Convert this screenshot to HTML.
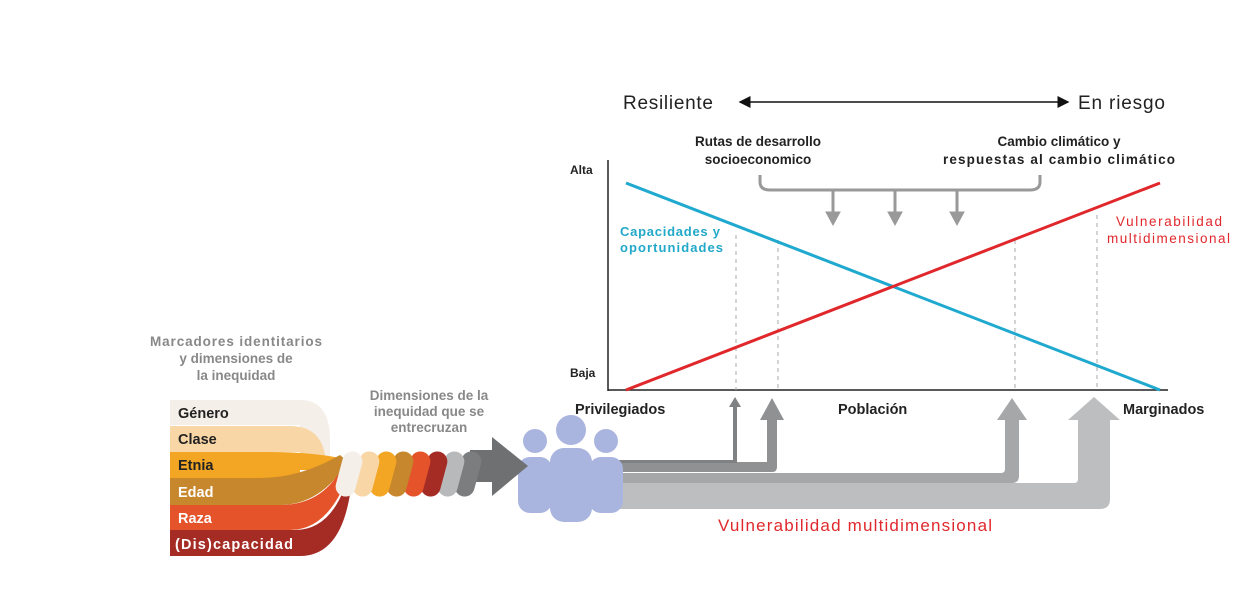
<!DOCTYPE html>
<html><head><meta charset="utf-8"><style>
body{margin:0;background:#fff;}
svg text{font-family:"Liberation Sans",sans-serif;}
.b{font-weight:bold;}
</style></head><body>
<svg width="1256" height="593" viewBox="0 0 1256 593" xmlns="http://www.w3.org/2000/svg">
<defs>
<marker id="ah" markerWidth="8" markerHeight="8" refX="7" refY="4" orient="auto"><path d="M0,0 L8,4 L0,8 z" fill="#111"/></marker>
<marker id="ah2" markerWidth="8" markerHeight="8" refX="1" refY="4" orient="auto"><path d="M8,0 L0,4 L8,8 z" fill="#111"/></marker>
</defs>
<!-- top -->
<text x="623" y="109" font-size="19" fill="#222" textLength="90">Resiliente</text>
<line x1="740" y1="102" x2="1068" y2="102" stroke="#111" stroke-width="1.5" marker-end="url(#ah)" marker-start="url(#ah2)"/>
<text x="1078" y="109" font-size="19" fill="#222" textLength="87">En riesgo</text>
<text x="758" y="146" font-size="13.5" class="b" text-anchor="middle" fill="#222">Rutas de desarrollo</text>
<text x="758" y="164" font-size="13.5" class="b" text-anchor="middle" fill="#222">socioeconomico</text>
<text x="1059" y="146" font-size="13.5" class="b" text-anchor="middle" fill="#222">Cambio climático y</text>
<text x="1059" y="164" font-size="13.5" class="b" text-anchor="middle" fill="#222" textLength="232">respuestas al cambio climático</text>
<path d="M760,175 V182 Q760,190 770,190 H1030 Q1040,190 1040,182 V175" fill="none" stroke="#999" stroke-width="3"/>
<g fill="#999" stroke="#999">
<line x1="833" y1="190" x2="833" y2="214" stroke-width="3"/><path d="M826,212 L840,212 L833,225 z"/>
<line x1="895" y1="190" x2="895" y2="214" stroke-width="3"/><path d="M888,212 L902,212 L895,225 z"/>
<line x1="957" y1="190" x2="957" y2="214" stroke-width="3"/><path d="M950,212 L964,212 L957,225 z"/>
</g>
<!-- chart -->
<text x="570" y="174" font-size="12" class="b" fill="#222">Alta</text>
<text x="570" y="377" font-size="12" class="b" fill="#222">Baja</text>
<line x1="608" y1="160" x2="608" y2="391" stroke="#222" stroke-width="1.5"/>
<line x1="608" y1="390" x2="1168" y2="390" stroke="#222" stroke-width="1.5"/>
<g stroke="#aaa" stroke-dasharray="4,4" stroke-width="1">
<line x1="736" y1="235" x2="736" y2="390"/><line x1="778" y1="240" x2="778" y2="390"/>
<line x1="1015" y1="240" x2="1015" y2="390"/><line x1="1097" y1="215" x2="1097" y2="390"/>
</g>
<line x1="626" y1="183" x2="1160" y2="390" stroke="#20a9cf" stroke-width="3"/>
<line x1="626" y1="390" x2="1160" y2="183" stroke="#e0282c" stroke-width="3"/>
<text x="620" y="236" font-size="13" class="b" fill="#22a8c8" textLength="100">Capacidades y</text>
<text x="620" y="252" font-size="13" class="b" fill="#22a8c8" textLength="103">oportunidades</text>
<text x="1116" y="226" font-size="13.5" fill="#e0282c" textLength="106">Vulnerabilidad</text>
<text x="1107" y="243" font-size="13.5" fill="#e0282c" textLength="123">multidimensional</text>
<text x="575" y="414" font-size="14.5" class="b" fill="#222">Privilegiados</text>
<text x="838" y="414" font-size="14.5" class="b" fill="#222">Población</text>
<text x="1123" y="414" font-size="14.5" class="b" fill="#222">Marginados</text>
<!-- flow arrows -->
<path d="M615,483 H1074 Q1078,483 1078,479 V420 H1068 L1094,397 L1120,420 H1110 V499 Q1110,509 1100,509 H615 z" fill="#bdbec0"/>
<path d="M615,473 H1001 Q1005,473 1005,469 V420 H997 L1012,398 L1027,420 H1019 V476 Q1019,483 1012,483 H615 z" fill="#a6a7a9"/>
<path d="M615,462 H767 V420 H760 L772,398 L784,420 H777 V467 Q777,472 772,472 H615 z" fill="#909193"/>
<path d="M615,460 H733 V407 H729 L735,397 L741,407 H737 V463 H615 z" fill="#808183"/>
<text x="718" y="531" font-size="17" fill="#e0282c" textLength="274">Vulnerabilidad multidimensional</text>
<!-- people -->
<g fill="#aab5df">
<circle cx="535" cy="441" r="12"/><circle cx="606" cy="441" r="12"/><circle cx="571" cy="430" r="15"/>
<rect x="518" y="457" width="34" height="56" rx="12"/><rect x="589" y="457" width="34" height="56" rx="12"/>
<rect x="550" y="448" width="42" height="74" rx="14"/>
</g>
<!-- left -->
<text x="236" y="346" font-size="13.5" fill="#888" text-anchor="middle" class="b" textLength="172">Marcadores identitarios</text>
<text x="236" y="363" font-size="13.5" fill="#888" text-anchor="middle" class="b">y dimensiones de</text>
<text x="236" y="380" font-size="13.5" fill="#888" text-anchor="middle" class="b">la inequidad</text>
<text x="429" y="400" font-size="13.5" fill="#888" text-anchor="middle" class="b">Dimensiones de la</text>
<text x="429" y="416" font-size="13.5" fill="#888" text-anchor="middle" class="b">inequidad que se</text>
<text x="429" y="432" font-size="13.5" fill="#888" text-anchor="middle" class="b">entrecruzan</text>
<path d="M170,400 H300 Q330,400 330,440 V470 H300 V425 H170 z" fill="#f4efe8"/>
<path d="M170,426 H290 Q320,426 325,455 L335,470 H300 V452 H170 z" fill="#f8d6a6"/>
<path d="M170,452 H270 Q310,452 340,458 L345,470 H300 V478 H170 z" fill="#f3a623"/>
<path d="M170,478 H260 Q300,478 340,455 L348,462 Q320,505 280,505 H170 z" fill="#c7872d"/>
<path d="M170,505 H280 Q325,505 345,462 L350,470 Q330,530 290,530 H170 z" fill="#e4532a"/>
<path d="M170,530 H295 Q335,530 350,470 L352,478 Q345,556 300,556 H170 z" fill="#a52b25"/>
<text x="178" y="418" font-size="14.5" class="b" fill="#222">Género</text>
<text x="178" y="444" font-size="14.5" class="b" fill="#222">Clase</text>
<text x="178" y="470" font-size="14.5" class="b" fill="#222">Etnia</text>
<text x="178" y="497" font-size="14.5" class="b" fill="#fff">Edad</text>
<text x="178" y="523" font-size="14.5" class="b" fill="#fff">Raza</text>
<text x="175" y="549" font-size="14.5" class="b" fill="#fff" textLength="118">(Dis)capacidad</text>
<path d="M470,450 H492 V437 L528,466 L492,496 V482 H470 z" fill="#6f7072"/>
<g>
<rect x="458" y="451" width="20" height="46" rx="10" fill="#7c7d7f" transform="rotate(15 468 474)"/>
<rect x="441" y="451" width="20" height="46" rx="10" fill="#b8b9bb" transform="rotate(15 451 474)"/>
<rect x="424" y="451" width="20" height="46" rx="10" fill="#a52b25" transform="rotate(15 434 474)"/>
<rect x="407" y="451" width="20" height="46" rx="10" fill="#e4532a" transform="rotate(15 417 474)"/>
<rect x="390" y="451" width="20" height="46" rx="10" fill="#c7872d" transform="rotate(15 400 474)"/>
<rect x="373" y="451" width="20" height="46" rx="10" fill="#f3a623" transform="rotate(15 383 474)"/>
<rect x="356" y="451" width="20" height="46" rx="10" fill="#f8d6a6" transform="rotate(15 366 474)"/>
<rect x="339" y="451" width="20" height="46" rx="10" fill="#f4efe8" transform="rotate(15 349 474)"/>
</g>
</svg>
</body></html>
